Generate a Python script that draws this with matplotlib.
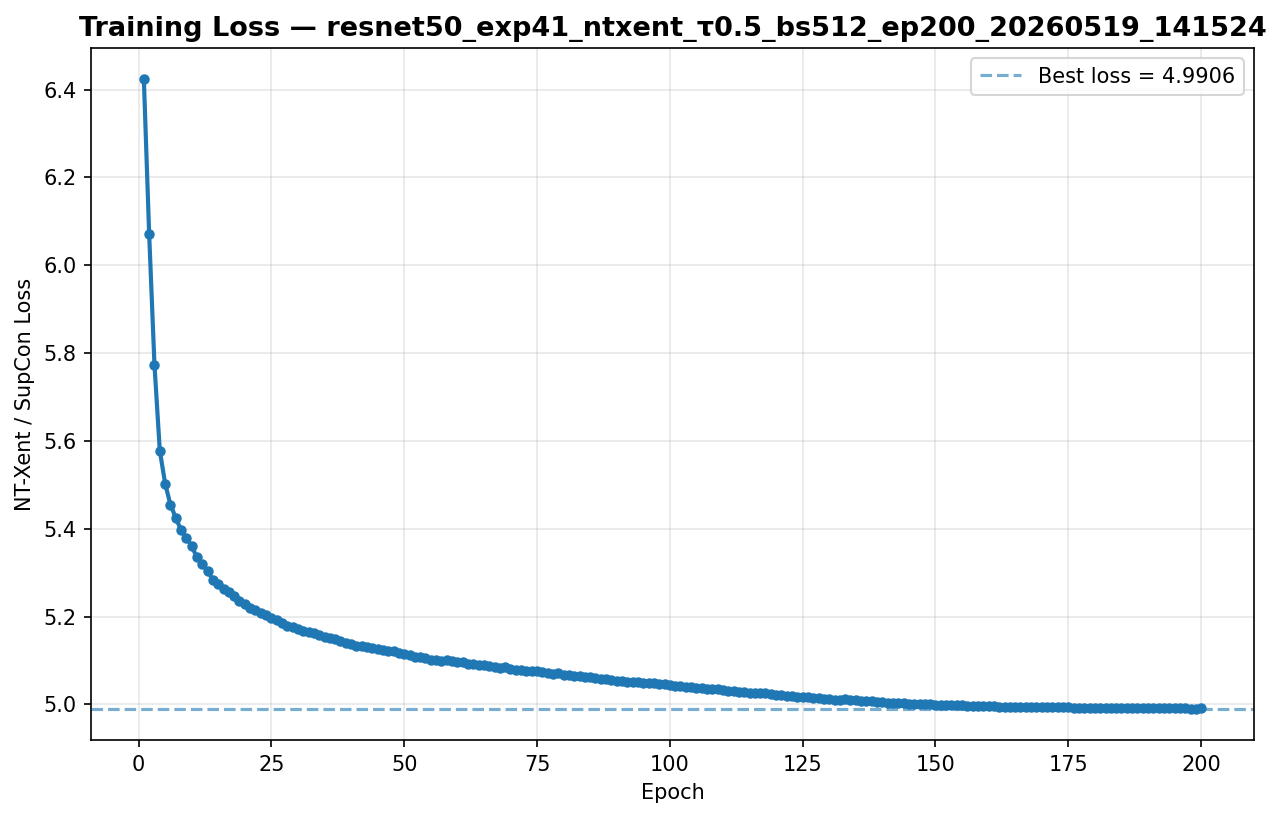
import matplotlib
matplotlib.use("Agg")
import matplotlib.pyplot as plt
import numpy as np

run_name = "resnet50_exp41_ntxent_τ0.5_bs512_ep200_20260519_141524"

# per-epoch training loss
loss = [
    6.423, 6.070, 5.772, 5.578, 5.503, 5.455, 5.425, 5.397, 5.380, 5.360,
    5.335, 5.320, 5.304, 5.283, 5.275, 5.263, 5.256, 5.246, 5.235, 5.228,
    5.219, 5.214, 5.209, 5.203, 5.197, 5.192, 5.185, 5.179, 5.176, 5.172,
    5.168, 5.165, 5.162, 5.157, 5.153, 5.152, 5.148, 5.144, 5.140, 5.137,
    5.134, 5.132, 5.130, 5.128, 5.126, 5.124, 5.122, 5.121, 5.117, 5.115,
    5.113, 5.109, 5.107, 5.106, 5.102, 5.100, 5.099, 5.100, 5.098, 5.096,
    5.097, 5.093, 5.091, 5.089, 5.090, 5.087, 5.085, 5.083, 5.085, 5.080,
    5.079, 5.078, 5.077, 5.075, 5.075, 5.074, 5.072, 5.070, 5.071, 5.068,
    5.066, 5.065, 5.064, 5.062, 5.063, 5.061, 5.058, 5.057, 5.055, 5.054,
    5.053, 5.052, 5.051, 5.050, 5.049, 5.048, 5.048, 5.047, 5.046, 5.044,
    5.043, 5.041, 5.040, 5.039, 5.038, 5.037, 5.036, 5.035, 5.034, 5.032,
    5.031, 5.030, 5.029, 5.028, 5.027, 5.026, 5.026, 5.025, 5.024, 5.022,
    5.021, 5.020, 5.019, 5.018, 5.017, 5.016, 5.015, 5.014, 5.013, 5.012,
    5.011, 5.011, 5.013, 5.010, 5.009, 5.008, 5.007, 5.007, 5.006, 5.005,
    5.004, 5.004, 5.003, 5.003, 5.002, 5.001, 5.001, 5.000, 5.000, 4.999,
    4.999, 4.999, 4.998, 4.998, 4.998, 4.997, 4.997, 4.997, 4.996, 4.996,
    4.996, 4.995, 4.995, 4.995, 4.995, 4.994, 4.994, 4.994, 4.994, 4.993,
    4.993, 4.993, 4.993, 4.993, 4.993, 4.992, 4.992, 4.992, 4.992, 4.992,
    4.992, 4.992, 4.9915, 4.9915, 4.9915, 4.9915, 4.9915, 4.991, 4.991, 4.991,
    4.991, 4.991, 4.991, 4.991, 4.991, 4.991, 4.9908, 4.9907, 4.9906, 4.9912,
]
epochs = np.arange(1, len(loss) + 1)
best = min(loss)

fig, ax = plt.subplots(figsize=(1281 / 150, 818 / 150), dpi=150)

ax.plot(epochs, loss, marker="o", markersize=4, linewidth=2, color="#1f77b4")
ax.axhline(best, linestyle="--", alpha=0.6, color="#1f77b4",
           label=f"Best loss = {best:.4f}")

ax.set_xlabel("Epoch")
ax.set_ylabel("NT-Xent / SupCon Loss")
ax.set_title(f"Training Loss — {run_name}", fontsize=13, fontweight="bold")
ax.grid(True, alpha=0.3)
ax.legend(loc="upper right")

fig.subplots_adjust(left=91 / 1281, right=1254 / 1281, top=1 - 48 / 818, bottom=1 - 740 / 818)
fig.savefig("out.png", dpi=150)
